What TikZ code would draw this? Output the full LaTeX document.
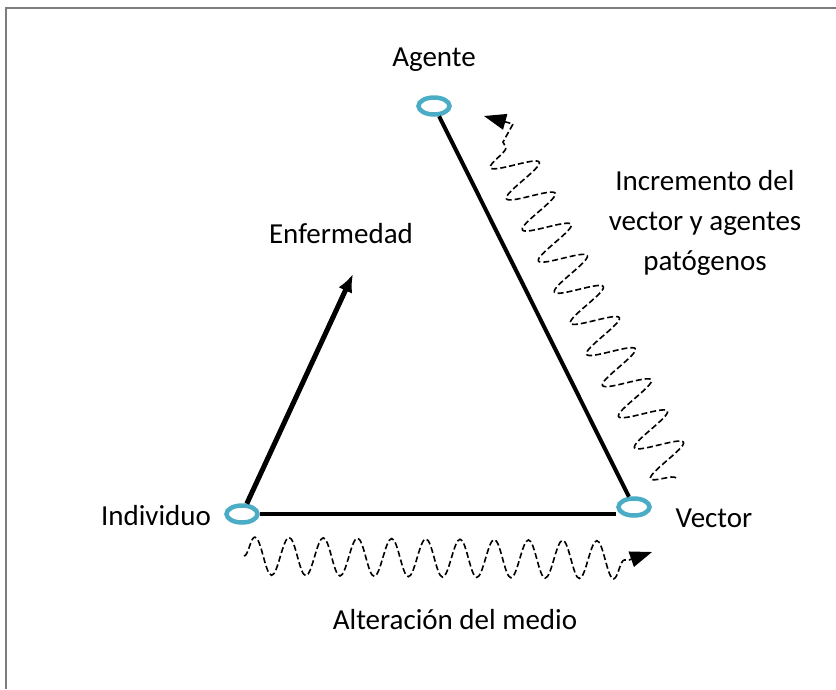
\documentclass[tikz,border=0pt]{standalone}
\usepackage{fontspec}
\setmainfont{Carlito}
\usepackage{tikz}
\usetikzlibrary{shapes.geometric,arrows.meta,positioning,decorations.pathmorphing}

\definecolor{polo}{RGB}{75,172,198}
\definecolor{marco}{RGB}{125,125,125}

\begin{document}
\begin{tikzpicture}[
        x=1pt, y=-1pt,
        font=\fontsize{29}{40}\selectfont,
        % Block styles
        polo/.style={
            ellipse,
            draw=polo,
            line width=4.5pt,
            minimum width=31pt,
            minimum height=17pt,
            inner sep=0pt
        },
        etiqueta/.style={
            align=center,
            inner sep=0pt
        },
        lado/.style={line width=4pt},
        flecha/.style={-{Latex[length=18pt,width=15pt]}, line width=5pt},
        onda/.style={
            dash pattern=on 6pt off 3pt,
            line width=1.6pt,
            -{Triangle[length=22pt,width=16pt]}
        },
        ondulada/.style={
            decoration={snake, segment length=#1, amplitude=23pt}
        }
    ]

    \useasboundingbox (0,0) rectangle (836,689);

    % Frame
    \draw[marco, line width=1.5pt] (6,689) -- (6,8) -- (840,8);

    % Vertices
    \node[polo] (agente) at (434,106) {};
    \node[polo] (individuo) at (242,514) {};
    \node[polo] (vector) at (634,507) {};

    % Labels
    \node[etiqueta] (lagente) at (434,60) {Agente};
    \node[etiqueta] (lindividuo) at (156,516) {Individuo};
    \node[etiqueta] (lvector) at (714,518) {Vector};
    \node[etiqueta] (lenf) at (341,234) {Enfermedad};
    \node[etiqueta] (lmedio) at (455,620) {Alteración del medio};
    \node[etiqueta] (lincr) at (705,223) {Incremento del\\vector y agentes\\patógenos};

    % Free ends
    \coordinate (enf) at (353,274);
    \coordinate (ondaA) at (676,478);
    \coordinate (ondaE) at (503,142);
    \coordinate (ondaG) at (513,124);
    \coordinate (ondaB) at (484,116);
    \coordinate (ondaC) at (244,556);
    \coordinate (ondaF) at (629,560);
    \coordinate (ondaD) at (652,552);

    % Connections
    \draw[lado] (agente) -- (vector);
    \draw[lado, line width=3.3pt] (individuo.east) -- (individuo.east -| vector.west);
    \draw[flecha] (individuo) -- (enf);
    \draw[onda] decorate[ondulada=35pt] {(ondaA) -- (ondaE)} -- (ondaG) -- (ondaB);
    \draw[onda] decorate[ondulada=34.2pt, decoration={amplitude=19pt}] {(ondaC) -- (ondaF)} -- (ondaD);

\end{tikzpicture}
\end{document}
